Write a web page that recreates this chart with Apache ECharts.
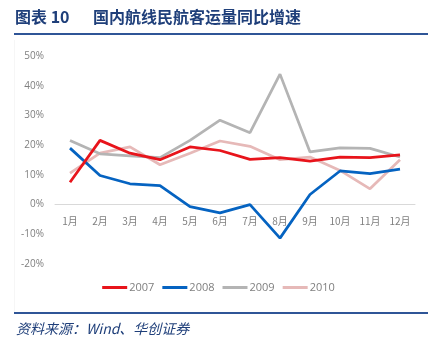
<!DOCTYPE html>
<html><head><meta charset="utf-8">
<script src="https://cdn.jsdelivr.net/npm/echarts@6/dist/echarts.min.js"></script>
<style>html,body{margin:0;padding:0;background:#fff}#c{width:437px;height:356px}</style>
</head><body><div id="c"></div>
<script>
const months = ['1月','2月','3月','4月','5月','6月','7月','8月','9月','10月','11月','12月'];
const s2007 = [7.5, 21.6, 17.3, 15.1, 19.4, 18.2, 15.2, 15.8, 14.6, 16.0, 15.8, 16.7];
const s2008 = [19.0, 9.8, 7.0, 6.4, -0.7, -2.8, 0.0, -11.3, 3.4, 11.3, 10.4, 11.9];
const s2009 = [21.6, 17.1, 16.4, 15.8, 21.6, 28.4, 24.2, 43.9, 17.7, 19.1, 18.9, 16.0];
const s2010 = [10.6, 17.3, 19.4, 13.4, 17.3, 21.4, 19.6, 15.1, 16.0, 11.5, 5.3, 15.1];
const seriesNames = ['2007','2008','2009','2010'];
const colors = ['#E8141B','#0563C1','#B4B4B4','#E6B9B8'];

const chart = echarts.init(document.getElementById('c'), null, {renderer:'canvas'});
const data = [s2007, s2008, s2009, s2010];
chart.setOption({
  animation:false,
  color: colors,
  textStyle:{fontFamily:'"Noto Sans CJK SC", "Open Sans", sans-serif'},
  grid:{left:55, right:22, top:56, bottom:92, containLabel:false},
  legend:{
    data: seriesNames, bottom:58, left:'center', itemWidth:25, itemHeight:3, itemGap:8,
    icon:'rect',
    textStyle:{color:'#7F7F7F', fontSize:11, fontFamily:'"Open Sans", sans-serif', padding:[0,0,0,-3]}
  },
  xAxis:{
    type:'category', data: months, boundaryGap:true,
    axisLine:{onZero:true, lineStyle:{color:'#D9D9D9', width:1}},
    axisTick:{show:false},
    axisLabel:{color:'#7F7F7F', fontSize:10, margin:-48}
  },
  yAxis:{
    type:'value', min:-20, max:50, interval:10,
    axisLine:{show:false}, axisTick:{show:false}, splitLine:{show:false},
    axisLabel:{color:'#7F7F7F', fontSize:10, margin:11, formatter:'{value}%', fontFamily:'"Open Sans", sans-serif'}
  },
  series: data.map((d,i)=>({
    name: seriesNames[i], type:'line', data:d, symbol:'none',
    lineStyle:{width:2.75, color:colors[i]}, z: i===3?1:(i===2?2:(i===0?4:3))
  })),
  graphic:[
    {type:'text', left:15, top:9, style:{text:'图表 10', fill:'#1F3F7A', font:'bold 16px "Noto Sans CJK SC"'}},
    {type:'text', left:93, top:9, style:{text:'国内航线民航客运量同比增速', fill:'#1F3F7A', font:'bold 16px "Noto Sans CJK SC"'}},
    {type:'rect', shape:{x:14, y:33, width:414, height:2}, style:{fill:'#2F5597'}},
    {type:'rect', shape:{x:14, y:312, width:414, height:2}, style:{fill:'#2F5597'}},
    {type:'rect', shape:{x:14, y:40, width:0.5, height:272}, style:{fill:'#EEEEEE'}},
    {type:'text', left:16, top:322, style:{text:'资料来源：Wind、华创证券', fill:'#1F3F7A', font:'italic 14px "Noto Sans CJK SC"'}}
  ]
});
</script></body></html>
